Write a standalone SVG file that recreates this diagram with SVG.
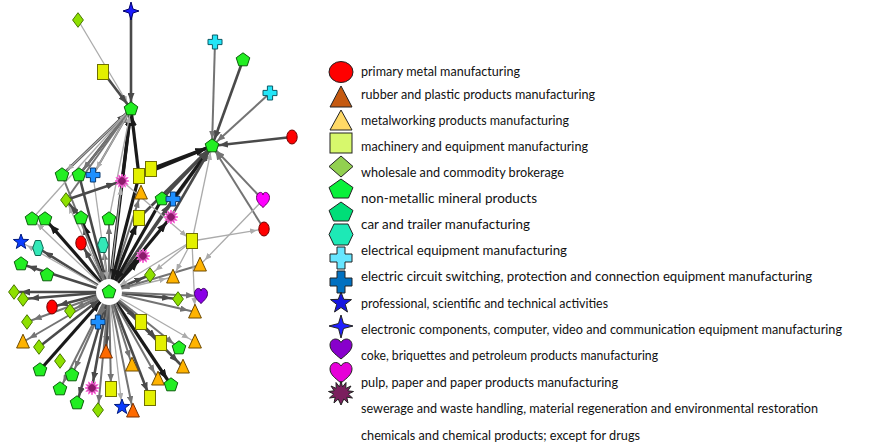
<svg xmlns="http://www.w3.org/2000/svg" xmlns:xlink="http://www.w3.org/1999/xlink" width="869" height="447" viewBox="0 0 869 447">
  <style>
    .k{stroke:#1a1a1a;stroke-width:3.2;marker-end:url(#ak)}
    .d{stroke:#4a4a4a;stroke-width:2.6;marker-end:url(#ad)}
    .m{stroke:#747474;stroke-width:2;marker-end:url(#am)}
    .l{stroke:#ababab;stroke-width:1.3;marker-end:url(#al)}
    .k.h{marker-end:url(#hk)}
    .d.h{marker-end:url(#hd)}
    .m.h{marker-end:url(#hm)}
    .l.h{marker-end:url(#hl)}
    #nodes use{stroke-width:1}
    .pent{fill:#22ee22;stroke:#0b5e0b}
    .sq{fill:#e3f000;stroke:#6f6f00}
    .dia{fill:#8ee000;stroke:#4a7800}
    .tri{fill:#ffb300;stroke:#6e4a00}
    .trr{fill:#ff6a00;stroke:#7a3000}
    .cir{fill:#ff0000;stroke:#700000}
    .cc{fill:#22e5f7;stroke:#0a5a66}
    .bc{fill:#1e90ff;stroke:#0a3a70}
    .st{fill:#0a3cff;stroke:#001a80}
    .s4{fill:#1a1aff;stroke:#00006a}
    .hex{fill:#33e8b8;stroke:#0b6650}
    .hp{fill:#8a00e6;stroke:#3d0066}
    .hm{fill:#ff00ff;stroke:#660066}
    .bu{fill:#8b1a6b;stroke:#ff66dd}
    .lg{stroke:#222;stroke-width:1}
    .lt{font-family:Lato,"Noto Sans",sans-serif;font-size:13px;fill:#111}
  </style>
  <defs>
    <marker id="ak" markerUnits="userSpaceOnUse" viewBox="0 0 10 8" markerWidth="10" markerHeight="8" refX="17" refY="4" orient="auto"><path d="M0,0L10,4L0,8z" fill="#1a1a1a"/></marker>
    <marker id="hk" markerUnits="userSpaceOnUse" viewBox="0 0 10 8" markerWidth="10" markerHeight="8" refX="23" refY="4" orient="auto"><path d="M0,0L10,4L0,8z" fill="#1a1a1a"/></marker>
    <marker id="ad" markerUnits="userSpaceOnUse" viewBox="0 0 9 7" markerWidth="9" markerHeight="7" refX="16" refY="3.5" orient="auto"><path d="M0,0L9,3.5L0,7z" fill="#4a4a4a"/></marker>
    <marker id="hd" markerUnits="userSpaceOnUse" viewBox="0 0 9 7" markerWidth="9" markerHeight="7" refX="22" refY="3.5" orient="auto"><path d="M0,0L9,3.5L0,7z" fill="#4a4a4a"/></marker>
    <marker id="am" markerUnits="userSpaceOnUse" viewBox="0 0 8 6.5" markerWidth="8" markerHeight="6.5" refX="15" refY="3.25" orient="auto"><path d="M0,0L8,3.25L0,6.5z" fill="#747474"/></marker>
    <marker id="hm" markerUnits="userSpaceOnUse" viewBox="0 0 8 6.5" markerWidth="8" markerHeight="6.5" refX="21" refY="3.25" orient="auto"><path d="M0,0L8,3.25L0,6.5z" fill="#747474"/></marker>
    <marker id="al" markerUnits="userSpaceOnUse" viewBox="0 0 7 6" markerWidth="7" markerHeight="6" refX="14" refY="3" orient="auto"><path d="M0,0L7,3L0,6z" fill="#ababab"/></marker>
    <marker id="hl" markerUnits="userSpaceOnUse" viewBox="0 0 7 6" markerWidth="7" markerHeight="6" refX="20" refY="3" orient="auto"><path d="M0,0L7,3L0,6z" fill="#ababab"/></marker>

    <polygon id="pent" points="0,-7.2 6.8,-2.2 4.2,5.8 -4.2,5.8 -6.8,-2.2"/>
    <rect id="sq" x="-5.5" y="-7.5" width="11" height="15"/>
    <polygon id="dia" points="0,-7.3 5.4,0 0,7.3 -5.4,0"/>
    <polygon id="tri" points="0,-7.8 6.4,6 -6.4,6"/>
    <ellipse id="cir" rx="5.2" ry="7"/>
    <path id="crs" d="M-2.6,-7h5.2v4.4h4.4v5.2h-4.4v4.4h-5.2v-4.4h-4.4v-5.2h4.4z"/>
    <polygon id="st" points="0,-8 1.94,-2.67 7.61,-2.47 3.14,1.02 4.7,6.47 0,3.3 -4.7,6.47 -3.14,1.02 -7.61,-2.47 -1.94,-2.67"/>
    <polygon id="s4" points="0,-9 2,-2 8,0 2,2 0,9 -2,2 -8,0 -2,-2"/>
    <polygon id="hex" points="-2.6,-7.5 2.6,-7.5 5.3,0 2.6,7.5 -2.6,7.5 -5.3,0"/>
    <path id="hrt" d="M0,7.5C-4,3.8 -6.5,1.2 -6.5,-2.6C-6.5,-5.8 -4.3,-7.6 -2.4,-7.6C-1,-7.6 0,-6.4 0,-5C0,-6.4 1,-7.6 2.4,-7.6C4.3,-7.6 6.5,-5.8 6.5,-2.6C6.5,1.2 4,3.8 0,7.5Z"/>
    <polygon id="bu" points="0,-7 0.98,-3.67 3.5,-6.06 2.69,-2.69 6.06,-3.5 3.67,-0.98 7,0 3.67,0.98 6.06,3.5 2.69,2.69 3.5,6.06 0.98,3.67 0,7 -0.98,3.67 -3.5,6.06 -2.69,2.69 -6.06,3.5 -3.67,0.98 -7,0 -3.67,-0.98 -6.06,-3.5 -2.69,-2.69 -3.5,-6.06 -0.98,-3.67"/>
  </defs>

  <rect width="869" height="447" fill="#fff"/>

  <!-- connectors -->
  <g id="edges" fill="none">
    <!-- hub outward -->
    <line class="k" x1="109" y1="292" x2="45" y2="219"/>
    <line class="k" x1="109" y1="292" x2="81" y2="218"/>
    <line class="k" x1="109" y1="292" x2="139" y2="218"/>
    <line class="k" x1="109" y1="292" x2="143" y2="256"/>
    <line class="k" x1="109" y1="292" x2="171" y2="385"/>
    <line class="k" x1="109" y1="292" x2="171" y2="217"/>
    <line class="k" x1="109" y1="292" x2="131" y2="109"/>
    <line class="d" x1="109" y1="292" x2="38" y2="248"/>
    <line class="d" x1="109" y1="292" x2="21" y2="264"/>
    <line class="d" x1="109" y1="292" x2="81" y2="243"/>
    <line class="d" x1="109" y1="292" x2="150" y2="275"/>
    <line class="d" x1="109" y1="292" x2="178" y2="299"/>
    <line class="d" x1="109" y1="292" x2="141" y2="322"/>
    <line class="d" x1="109" y1="292" x2="161" y2="343"/>
    <line class="d" x1="109" y1="292" x2="183" y2="367"/>
    <line class="d" x1="109" y1="292" x2="150" y2="398"/>
    <line class="d" x1="109" y1="292" x2="106" y2="352"/>
    <line class="d" x1="109" y1="292" x2="92" y2="388"/>
    <line class="d" x1="109" y1="292" x2="77" y2="403"/>
    <line class="d" x1="109" y1="292" x2="52" y2="307"/>
    <line class="d" x1="109" y1="292" x2="14" y2="292"/>
    <line class="d" x1="109" y1="292" x2="23" y2="299"/>
    <line class="d" x1="109" y1="292" x2="173" y2="199"/>
    <line class="d" x1="109" y1="292" x2="212" y2="146"/>
    <line class="m" x1="109" y1="292" x2="109" y2="219"/>
    <line class="m" x1="109" y1="292" x2="201" y2="296"/>
    <line class="m" x1="109" y1="292" x2="195" y2="312"/>
    <line class="m" x1="109" y1="292" x2="158" y2="379"/>
    <line class="m" x1="109" y1="292" x2="179" y2="348"/>
    <line class="m" x1="109" y1="292" x2="132" y2="365"/>
    <line class="m" x1="109" y1="292" x2="133" y2="411"/>
    <line class="m" x1="109" y1="292" x2="111" y2="389"/>
    <line class="m" x1="109" y1="292" x2="98" y2="410"/>
    <line class="m" x1="109" y1="292" x2="60" y2="389"/>
    <line class="m" x1="109" y1="292" x2="72" y2="375"/>
    <line class="m" x1="109" y1="292" x2="23" y2="342"/>
    <line class="m" x1="109" y1="292" x2="27" y2="322"/>
    <line class="m" x1="109" y1="292" x2="70" y2="311"/>
    <line class="m" x1="109" y1="292" x2="98" y2="322"/>
    <line class="m" x1="109" y1="292" x2="103" y2="245"/>
    <line class="m" x1="109" y1="292" x2="141" y2="193"/>
    <line class="l" x1="109" y1="292" x2="32" y2="219"/>
    <line class="l" x1="109" y1="292" x2="21" y2="242"/>
    <line class="l" x1="109" y1="292" x2="173" y2="277"/>
    <line class="l" x1="109" y1="292" x2="195" y2="342"/>
    <line class="l" x1="109" y1="292" x2="122" y2="407"/>
    <line class="l" x1="109" y1="292" x2="66" y2="200"/>
    <line class="l" x1="109" y1="292" x2="122" y2="181"/>
    <!-- hub inward -->
    <line class="k h" x1="40" y1="370" x2="109" y2="292"/>
    <line class="k h" x1="139" y1="176" x2="109" y2="292"/>
    <line class="k h" x1="162" y1="199" x2="109" y2="292"/>
    <line class="d h" x1="79" y1="175" x2="109" y2="292"/>
    <line class="d h" x1="39" y1="347" x2="109" y2="292"/>
    <line class="m h" x1="200" y1="265" x2="109" y2="292"/>
    <line class="m h" x1="62" y1="175" x2="109" y2="292"/>
    <line class="l h" x1="192" y1="241" x2="109" y2="292"/>
    <line class="l h" x1="93" y1="175" x2="109" y2="292"/>
    <!-- into the upper pentagon -->
    <line class="l" x1="78" y1="20" x2="131" y2="109"/>
    <line class="d" x1="103" y1="72" x2="131" y2="109"/>
    <line class="d" x1="131" y1="11" x2="131" y2="109"/>
    <line class="d" x1="62" y1="175" x2="131" y2="109"/>
    <line class="d" x1="79" y1="175" x2="131" y2="109"/>
    <line class="m" x1="93" y1="175" x2="131" y2="109"/>
    <line class="m" x1="66" y1="200" x2="131" y2="109"/>
    <line class="l" x1="32" y1="219" x2="131" y2="109"/>
    <line class="k" x1="122" y1="181" x2="131" y2="109"/>
    <line class="k" x1="139" y1="176" x2="131" y2="109"/>
    <line class="l" x1="109" y1="219" x2="131" y2="109"/>
    <line class="m" x1="131" y1="109" x2="79" y2="175"/>
    <line class="l" x1="131" y1="109" x2="62" y2="175"/>
    <line class="l" x1="131" y1="109" x2="93" y2="175"/>
    <!-- into the right pentagon -->
    <line class="m" x1="215" y1="42" x2="212" y2="146"/>
    <line class="d" x1="243" y1="60" x2="212" y2="146"/>
    <line class="m" x1="270" y1="93" x2="212" y2="146"/>
    <line class="d" x1="292" y1="137" x2="212" y2="146"/>
    <line class="m" x1="263" y1="200" x2="212" y2="146"/>
    <line class="m" x1="264" y1="229" x2="212" y2="146"/>
    <line class="l" x1="192" y1="241" x2="212" y2="146"/>
    <line class="k" x1="139" y1="176" x2="212" y2="146"/>
    <line class="k" x1="151" y1="169" x2="212" y2="146"/>
    <line class="d" x1="162" y1="199" x2="212" y2="146"/>
    <line class="k" x1="173" y1="199" x2="212" y2="146"/>
    <line class="d" x1="171" y1="217" x2="212" y2="146"/>
    <line class="d" x1="139" y1="218" x2="212" y2="146"/>
    <!-- other links -->
    <line class="l" x1="192" y1="241" x2="264" y2="229"/>
    <line class="l" x1="263" y1="200" x2="200" y2="265"/>
    <line class="d" x1="66" y1="200" x2="122" y2="181"/>
    <line class="d" x1="81" y1="218" x2="66" y2="200"/>
    <line class="l" x1="122" y1="181" x2="192" y2="241"/>
    <line class="l" x1="192" y1="241" x2="173" y2="277"/>
    <line class="l" x1="192" y1="241" x2="150" y2="275"/>
    <line class="l" x1="192" y1="241" x2="195" y2="312"/>
  </g>

  <!-- clear ring round the hub -->
  <circle cx="109" cy="292" r="13" fill="#fff"/>

  <g id="nodes">
    <g id="n1"><use href="#dia" class="dia" x="78" y="20"/></g>
    <g id="n2"><use href="#s4" class="s4" x="131" y="11"/></g>
    <g id="n3"><use href="#sq" class="sq" x="103" y="72"/></g>
    <g id="n4"><use href="#pent" class="pent" x="131" y="109"/></g>
    <g id="n5"><use href="#crs" class="cc" x="215" y="42"/></g>
    <g id="n6"><use href="#pent" class="pent" x="243" y="60"/></g>
    <g id="n7"><use href="#crs" class="cc" x="270" y="93"/></g>
    <g id="n8"><use href="#cir" class="cir" x="292" y="137"/></g>
    <g id="n9"><use href="#pent" class="pent" x="212" y="146"/></g>
    <g id="n10"><use href="#pent" class="pent" x="62" y="175"/></g>
    <g id="n11"><use href="#pent" class="pent" x="79" y="175"/></g>
    <g id="n12"><use href="#crs" class="bc" x="93" y="175"/></g>
    <g id="n13"><use href="#bu" class="bu" x="122" y="181"/></g>
    <g id="n14"><use href="#sq" class="sq" x="139" y="176"/></g>
    <g id="n15"><use href="#sq" class="sq" x="151" y="169"/></g>
    <g id="n16"><use href="#tri" class="tri" x="141" y="193"/></g>
    <g id="n17"><use href="#pent" class="pent" x="162" y="199"/></g>
    <g id="n18"><use href="#crs" class="bc" x="173" y="199"/></g>
    <g id="n19"><use href="#dia" class="dia" x="66" y="200"/></g>
    <g id="n20"><use href="#bu" class="bu" x="171" y="217"/></g>
    <g id="n21"><use href="#pent" class="pent" x="32" y="219"/></g>
    <g id="n22"><use href="#pent" class="pent" x="45" y="219"/></g>
    <g id="n23"><use href="#pent" class="pent" x="81" y="218"/></g>
    <g id="n24"><use href="#pent" class="pent" x="109" y="219"/></g>
    <g id="n25"><use href="#sq" class="sq" x="139" y="218"/></g>
    <g id="n26"><use href="#hrt" class="hm" x="263" y="200"/></g>
    <g id="n27"><use href="#cir" class="cir" x="264" y="229"/></g>
    <g id="n28"><use href="#st" class="st" x="21" y="242"/></g>
    <g id="n29"><use href="#hex" class="hex" x="38" y="248"/></g>
    <g id="n30"><use href="#cir" class="cir" x="81" y="243"/></g>
    <g id="n31"><use href="#hex" class="hex" x="103" y="245"/></g>
    <g id="n32"><use href="#bu" class="bu" x="143" y="256"/></g>
    <g id="n33"><use href="#sq" class="sq" x="192" y="241"/></g>
    <g id="n34"><use href="#tri" class="tri" x="200" y="265"/></g>
    <g id="n35"><use href="#tri" class="tri" x="173" y="277"/></g>
    <g id="n36"><use href="#dia" class="dia" x="150" y="275"/></g>
    <g id="n37"><use href="#pent" class="pent" x="21" y="264"/></g>
    <g id="n38"><use href="#pent" class="pent" x="47" y="275"/></g>
    <g id="n39"><use href="#dia" class="dia" x="14" y="292"/></g>
    <g id="n40"><use href="#dia" class="dia" x="23" y="299"/></g>
    <g id="n41"><use href="#pent" class="pent" x="109" y="292"/></g>
    <g id="n42"><use href="#cir" class="cir" x="52" y="307"/></g>
    <g id="n43"><use href="#dia" class="dia" x="70" y="311"/></g>
    <g id="n44"><use href="#dia" class="dia" x="27" y="322"/></g>
    <g id="n45"><use href="#crs" class="bc" x="98" y="322"/></g>
    <g id="n46"><use href="#tri" class="tri" x="23" y="342"/></g>
    <g id="n47"><use href="#dia" class="dia" x="39" y="347"/></g>
    <g id="n48"><use href="#tri" class="trr" x="106" y="352"/></g>
    <g id="n49"><use href="#dia" class="dia" x="60" y="361"/></g>
    <g id="n50"><use href="#pent" class="pent" x="40" y="370"/></g>
    <g id="n51"><use href="#pent" class="pent" x="72" y="375"/></g>
    <g id="n52"><use href="#pent" class="pent" x="60" y="389"/></g>
    <g id="n53"><use href="#bu" class="bu" x="92" y="388"/></g>
    <g id="n54"><use href="#sq" class="sq" x="111" y="389"/></g>
    <g id="n55"><use href="#pent" class="pent" x="77" y="403"/></g>
    <g id="n56"><use href="#dia" class="dia" x="98" y="410"/></g>
    <g id="n57"><use href="#st" class="st" x="122" y="407"/></g>
    <g id="n58"><use href="#tri" class="trr" x="133" y="411"/></g>
    <g id="n59"><use href="#tri" class="tri" x="132" y="365"/></g>
    <g id="n60"><use href="#sq" class="sq" x="141" y="322"/></g>
    <g id="n61"><use href="#sq" class="sq" x="161" y="343"/></g>
    <g id="n62"><use href="#pent" class="pent" x="179" y="348"/></g>
    <g id="n63"><use href="#tri" class="tri" x="195" y="342"/></g>
    <g id="n64"><use href="#tri" class="tri" x="183" y="367"/></g>
    <g id="n65"><use href="#tri" class="tri" x="158" y="379"/></g>
    <g id="n66"><use href="#pent" class="pent" x="171" y="385"/></g>
    <g id="n67"><use href="#sq" class="sq" x="150" y="398"/></g>
    <g id="n68"><use href="#dia" class="dia" x="178" y="299"/></g>
    <g id="n69"><use href="#hrt" class="hp" x="201" y="296"/></g>
    <g id="n70"><use href="#tri" class="tri" x="195" y="312"/></g>
  </g>

  <!-- legend -->
  <g id="legend">
    <ellipse class="lg" cx="341" cy="72" rx="12" ry="10.5" fill="#ff0000"/>
    <polygon class="lg" points="341,86 352,107 330,107" fill="#c55a11"/>
    <polygon class="lg" points="341,110 352,130 330,130" fill="#ffd966"/>
    <rect class="lg" x="330" y="133" width="22" height="20" fill="#d7f86c"/>
    <polygon class="lg" points="341,156 353,166.5 341,177 329,166.5" fill="#92d050"/>
    <polygon class="lg" points="341,179 353,187.5 348.5,198 333.5,198 329,187.5" fill="#0af03a"/>
    <polygon class="lg" points="341,202 353,210.5 348.5,221 333.5,221 329,210.5" fill="#00de78"/>
    <polygon class="lg" points="334,224 348,224 353,234.5 348,245 334,245 329,234.5" fill="#1de9b6"/>
    <path class="lg" d="M337,247h8v7h7v8h-7v7h-8v-7h-7v-8h7z" fill="#66e6ff"/>
    <path class="lg" d="M337,271h8v7h7v8h-7v7h-8v-7h-7v-8h7z" fill="#0070c0"/>
    <polygon class="lg" points="341,292 343.7,299.3 351.5,299.6 345.3,304.4 347.5,312 341,307.5 334.5,312 336.7,304.4 330.5,299.6 338.3,299.3" fill="#1515e0"/>
    <polygon class="lg" points="341,315 343.5,323.5 353,326 343.5,328.5 341,338 338.5,328.5 329,326 338.5,323.5" fill="#1f1fff"/>
    <path class="lg" d="M341,359C335,354 330,350.5 330,345C330,341 333,339 335.5,339C338,339 340,340.5 341,342.5C342,340.5 344,339 346.5,339C349,339 352,341 352,345C352,350.5 347,354 341,359Z" fill="#8800cc"/>
    <path class="lg" d="M341,383C335,378 330,374.5 330,369C330,365 333,362.5 335.5,362.5C338,362.5 340,364 341,366C342,364 344,362.5 346.5,362.5C349,362.5 352,365 352,369C352,374.5 347,378 341,383Z" fill="#e600d8"/>
    <polygon class="lg" points="341,381 342.5,387 346,382.5 345.8,388.4 351,386 347.8,390.8 353.5,391.5 348.2,394 352.5,398 346.8,397.2 348,403 343.8,399 341,405 338.2,399 334,403 335.2,397.2 329.5,398 333.8,394 328.5,391.5 334.2,390.8 331,386 336.2,388.4 336,382.5 339.5,387" fill="#7b1f5e"/>

    <text class="lt" x="361" y="76" textLength="159" lengthAdjust="spacingAndGlyphs">primary metal manufacturing</text>
    <text class="lt" x="361" y="99" textLength="234" lengthAdjust="spacingAndGlyphs">rubber and plastic products manufacturing</text>
    <text class="lt" x="361" y="125" textLength="208" lengthAdjust="spacingAndGlyphs">metalworking products manufacturing</text>
    <text class="lt" x="361" y="151" textLength="227" lengthAdjust="spacingAndGlyphs">machinery and equipment manufacturing</text>
    <text class="lt" x="361" y="177" textLength="203" lengthAdjust="spacingAndGlyphs">wholesale and commodity brokerage</text>
    <text class="lt" x="361" y="203" textLength="176" lengthAdjust="spacingAndGlyphs">non-metallic mineral products</text>
    <text class="lt" x="361" y="229" textLength="169" lengthAdjust="spacingAndGlyphs">car and trailer manufacturing</text>
    <text class="lt" x="361" y="255" textLength="206" lengthAdjust="spacingAndGlyphs">electrical equipment manufacturing</text>
    <text class="lt" x="361" y="281" textLength="451" lengthAdjust="spacingAndGlyphs">electric circuit switching, protection and connection equipment manufacturing</text>
    <text class="lt" x="361" y="308" textLength="247" lengthAdjust="spacingAndGlyphs">professional, scientific and technical activities</text>
    <text class="lt" x="361" y="334" textLength="481" lengthAdjust="spacingAndGlyphs">electronic components, computer, video and communication equipment manufacturing</text>
    <text class="lt" x="361" y="360" textLength="297" lengthAdjust="spacingAndGlyphs">coke, briquettes and petroleum products manufacturing</text>
    <text class="lt" x="361" y="387" textLength="257" lengthAdjust="spacingAndGlyphs">pulp, paper and paper products manufacturing</text>
    <text class="lt" x="361" y="413" textLength="457" lengthAdjust="spacingAndGlyphs">sewerage and waste handling, material regeneration and environmental restoration</text>
    <text class="lt" x="361" y="440" textLength="279" lengthAdjust="spacingAndGlyphs">chemicals and chemical products; except for drugs</text>
  </g>
</svg>
